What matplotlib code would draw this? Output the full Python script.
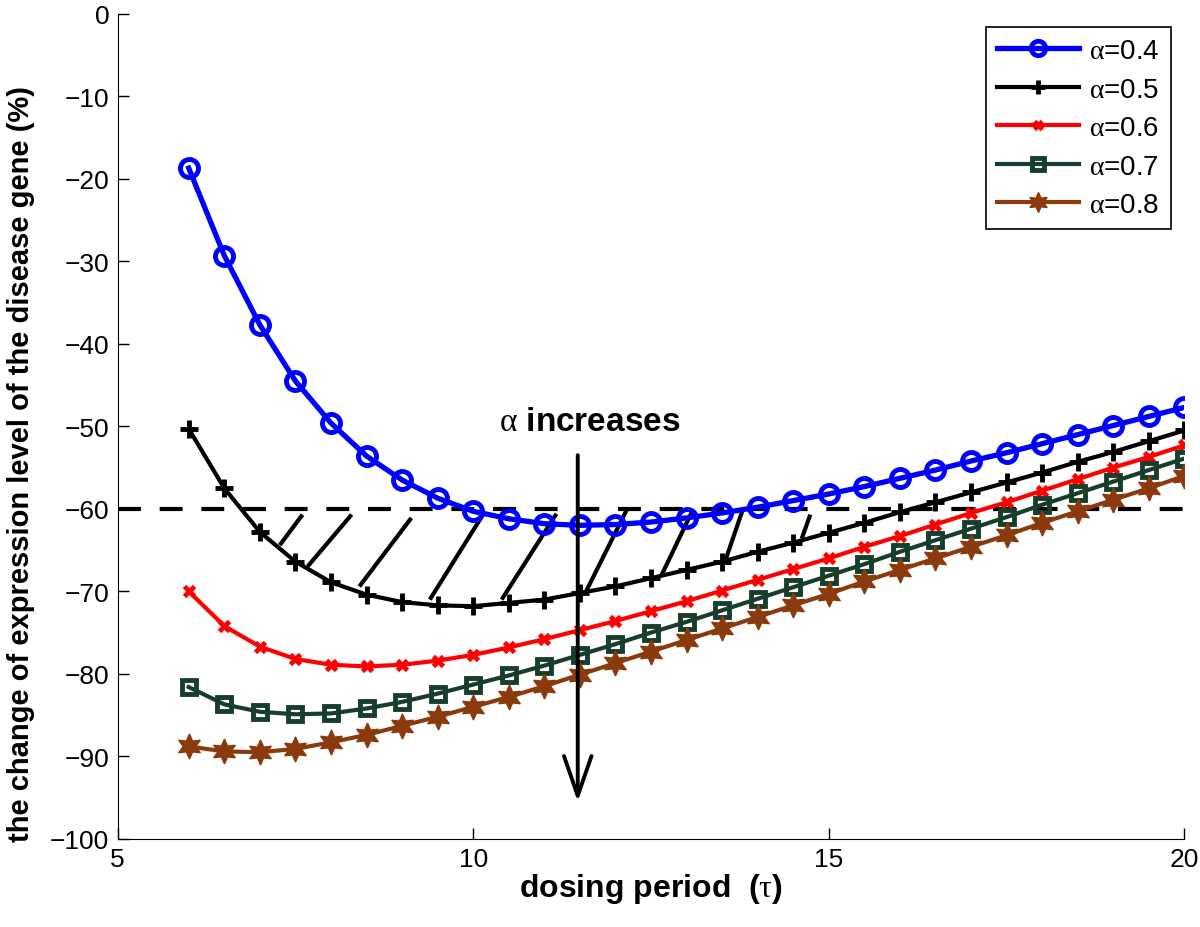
import numpy as np
import matplotlib
matplotlib.use('Agg')
import matplotlib.pyplot as plt

#-----------------------------------------------------------------------------------------------------------
# Data

tau = np.arange(6, 20.01, 0.5)   # dosing period

alpha_04 = [-18.7, -29.3, -37.7, -44.5, -49.6, -53.6, -56.5, -58.7, -60.3, -61.2, -61.8, -62.0, -61.9, -61.6, -61.1,
            -60.5, -59.8, -59.0, -58.2, -57.3, -56.3, -55.3, -54.2, -53.2, -52.1, -51.0, -49.9, -48.8, -47.7]
alpha_05 = [-50.3, -57.5, -62.8, -66.4, -68.9, -70.4, -71.3, -71.7, -71.8, -71.4, -71.0, -70.2, -69.4, -68.4, -67.4,
            -66.4, -65.2, -64.1, -62.9, -61.7, -60.4, -59.2, -58.0, -56.8, -55.6, -54.3, -53.1, -51.8, -50.5]
alpha_06 = [-70.0, -74.2, -76.7, -78.2, -78.9, -79.1, -78.9, -78.4, -77.7, -76.8, -75.8, -74.7, -73.6, -72.4, -71.2,
            -69.9, -68.6, -67.3, -66.0, -64.6, -63.3, -61.9, -60.5, -59.2, -57.8, -56.4, -55.0, -53.7, -52.3]
alpha_07 = [-81.6, -83.7, -84.6, -84.9, -84.8, -84.2, -83.4, -82.4, -81.3, -80.2, -79.0, -77.7, -76.4, -75.0, -73.7,
            -72.3, -70.9, -69.5, -68.1, -66.7, -65.2, -63.8, -62.4, -61.0, -59.5, -58.1, -56.7, -55.3, -53.9]
alpha_08 = [-88.8, -89.4, -89.5, -89.1, -88.3, -87.4, -86.3, -85.2, -84.0, -82.8, -81.5, -80.1, -78.7, -77.3, -75.9,
            -74.5, -73.1, -71.7, -70.3, -68.8, -67.4, -66.0, -64.6, -63.2, -61.7, -60.3, -58.9, -57.5, -56.0]

labels = ['$\\alpha$=0.4', '$\\alpha$=0.5', '$\\alpha$=0.6', '$\\alpha$=0.7', '$\\alpha$=0.8']

threshold = -60

# hatch strokes between the alpha=0.5 curve and the threshold
hatch_x0 = [7.28, 7.67, 8.40, 9.39, 10.40, 11.57, 12.65, 13.54, 14.62]
hatch_y0 = [-64.4, -67.0, -69.4, -71.0, -71.0, -70.3, -68.0, -66.4, -63.6]
hatch_x1 = [7.60, 8.29, 9.13, 10.16, 11.17, 12.16, 13.09, 13.79, 14.74]
hatch_y1 = [-60.7, -60.7, -61.1, -60.4, -60.6, -60.1, -60.1, -60.1, -60.7]

arrow_x = 11.47
arrow_top = -53.5
arrow_bottom = -95.5

#-----------------------------------------------------------------------------------------------------------
# Style

plt.rcParams['font.family'] = ['Liberation Sans', 'DejaVu Sans']
plt.rcParams['mathtext.fontset'] = 'custom'
plt.rcParams['mathtext.rm'] = 'Liberation Serif'
plt.rcParams['mathtext.it'] = 'Liberation Serif'
plt.rcParams['mathtext.default'] = 'rm'

fig = plt.figure(figsize=(12, 9.28), dpi=100)
ax = fig.add_axes([0.098, 0.095, 0.889, 0.889])

green = '#173d2b'
brown = '#8b3a0e'

ax.axhline(threshold, color='k', lw=3, ls=(0, (5.5, 4.5)), zorder=1)

for i in range(len(hatch_x0)):
    ax.plot([hatch_x0[i], hatch_x1[i]], [hatch_y0[i], hatch_y1[i]], color='k', lw=3, solid_capstyle='butt', zorder=1)

ax.plot(tau, alpha_04, color='#0000ff', lw=3.8, marker='o', ms=13, mew=3.5, mfc='none', label=labels[0], zorder=3)
ax.plot(tau, alpha_05, color='k', lw=3, marker='+', ms=13, mew=3.5, label=labels[1], zorder=3)
ax.plot(tau, alpha_06, color='#ff0000', lw=3, marker='x', ms=7.5, mew=3.5, label=labels[2], zorder=3)
ax.plot(tau, alpha_07, color=green, lw=3, marker='s', ms=10.5, mew=3.5, mfc='none', label=labels[3], zorder=3)
ax.plot(tau, alpha_08, color=brown, lw=3, marker=(6, 1, 0), ms=18, mew=1, mfc=brown, label=labels[4], zorder=3)

ax.annotate('', xy=(arrow_x, arrow_bottom), xytext=(arrow_x, arrow_top),
            arrowprops=dict(arrowstyle='->,head_length=1.3,head_width=0.45', lw=2.8, color='k',
                            shrinkA=0, shrinkB=0, mutation_scale=22), zorder=4)
ax.text(11.64, -49.4, '$\\alpha$ increases', fontsize=24, fontweight='bold', ha='center', va='center')

ax.set_xlim(5, 20)
ax.set_ylim(-100, 0)
ax.set_xticks([5, 10, 15, 20])
ax.set_yticks(np.arange(-100, 1, 10))
ax.tick_params(direction='in', length=8, width=1, labelsize=19, pad=6)
ax.spines['top'].set_visible(False)
ax.spines['right'].set_visible(False)

ax.set_xlabel('dosing period  ($\\tau$)', fontsize=23, fontweight='bold', labelpad=0)
ax.set_ylabel('the change of expression level of the disease gene (%)', fontsize=21, fontweight='bold')
ax.yaxis.set_label_coords(-0.077, 0.455)

leg = ax.legend(loc='upper right', bbox_to_anchor=(0.987, 0.984), borderaxespad=0, fontsize=20,
                handlelength=2.95, handletextpad=0.35, labelspacing=0.45, fancybox=False, framealpha=1,
                edgecolor='k', markerscale=0.8)
leg.get_frame().set_linewidth(1.2)

plt.savefig('out.png', dpi=100)
